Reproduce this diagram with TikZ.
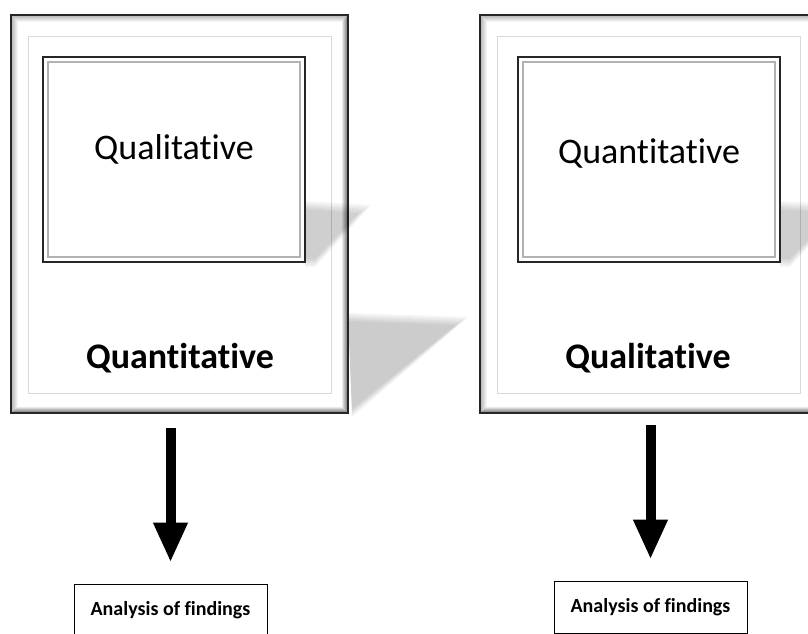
\documentclass[tikz,border=0pt]{standalone}
\usepackage{fontspec}
\setmainfont{Carlito}[Ligatures=NoCommon]
\usetikzlibrary{arrows.meta}
\tikzset{
	outerframe/.pic={
		\fill[white] (0,0) rectangle (337,398);
		\shade[top color=black!30,bottom color=white] (0,0) -- (337,0) -- (330,7) -- (7,7) -- cycle;
		\shade[left color=black!30,right color=white] (0,0) -- (7,7) -- (7,391) -- (0,398) -- cycle;
		\shade[left color=white,right color=black!60] (337,0) -- (337,398) -- (330,391) -- (330,7) -- cycle;
		\shade[top color=white,bottom color=black!60] (0,398) -- (337,398) -- (330,391) -- (7,391) -- cycle;
		\draw[black!85,line width=2] (0,0) rectangle (337,398);
		\draw[black!15] (17,21) rectangle (320,378);
	}
}
\tikzset{
	innerbox/.pic={
		\fill[white] (0,0) rectangle (262,205);
		\draw[black!30,line width=2.5] (5,5) rectangle (257,200);
		\draw[black!85,line width=2] (0,0) rectangle (262,205);
	}
}
\tikzset{
	frameshadow/.pic={
		\foreach \s in {0,2,...,8}
			\fill[black,opacity=.045] (0,298+\s) -- (120-1.5*\s,302+\s) -- (4,402-\s) -- cycle;
	},
	boxshadow/.pic={
		\foreach \s in {0,2,...,8}
			\fill[black,opacity=.04] (0,144+\s) -- (66-1.5*\s,148+\s) -- (10,210-\s) -- (0,210-\s) -- cycle;
	}
}

\begin{document}
\begin{tikzpicture}[x=1pt,y=-1pt,
	label text/.style={font=\fontsize{36}{40}\selectfont,anchor=base},
	heading text/.style={font=\bfseries\fontsize{36}{40}\selectfont,anchor=base},
	result/.style={draw,line width=1,minimum width=193,minimum height=52,inner sep=0,
		font=\bfseries\fontsize{20}{24}\selectfont},
	bigarrow/.style={line width=10,-{Triangle[width=32,length=40]}}]
\clip (0,0) rectangle (808,634);

%frames
\foreach \fx in {11,480}
	\draw (\fx+337,15) pic {frameshadow};
\foreach \fx in {11,480}
	\draw (\fx,15) pic {outerframe};
\foreach \bx in {43,518}
	\draw (\bx+262,57) pic {boxshadow};
\foreach \bx in {43,518}
	\draw (\bx,57) pic {innerbox};

\node[minimum width=337,minimum height=398] (leftframe) at (179.5,214) {};
\node[minimum width=337,minimum height=398] (rightframe) at (648.5,214) {};

%texts
\node[label text] (leftinner) at (174,159) {Qualitative};
\node[heading text] (leftouter) at (180,368) {Quantitative};
\node[label text] (rightinner) at (649,163) {Quantitative};
\node[heading text] (rightouter) at (648,368) {Qualitative};

%findings
\node[result] (leftresult) at (170.5,610) {Analysis of findings};
\node[result] (rightresult) at (650.5,607) {Analysis of findings};

\draw[bigarrow,shorten <=15,shorten >=21] (leftresult.north |- leftframe.south) -- (leftresult.north);
\draw[bigarrow,shorten <=12,shorten >=21] (rightresult.north |- rightframe.south) -- (rightresult.north);
\end{tikzpicture}
\end{document}
